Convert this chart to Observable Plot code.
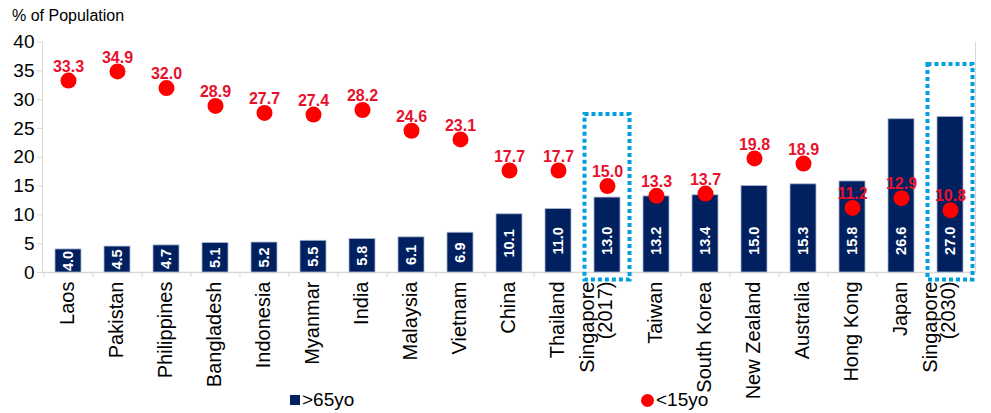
<!DOCTYPE html>
<html>
<head>
<meta charset="utf-8">
<script src="https://cdn.jsdelivr.net/npm/d3@7"></script>
<script src="https://cdn.jsdelivr.net/npm/@observablehq/plot@0.6"></script>
<style>
  html, body { margin: 0; padding: 0; background: #fff; }
  body { width: 991px; height: 413px; overflow: hidden; font-family: "Liberation Sans", Arial, sans-serif; color: #000; }
  #title { height: 28px; position: relative; }
  #title span { position: absolute; left: 12px; top: 7px; font-size: 16px; }
  #legend { height: 25px; position: relative; font-size: 19px; }
  .item { position: absolute; top: 1px; display: flex; align-items: center; }
  .sw { display: inline-block; margin-right: 2px; }
</style>
</head>
<body>
<div id="title"><span>% of Population</span></div>
<div id="chart"></div>
<div id="legend">
  <div class="item" style="left:290px"><span class="sw" style="width:10px;height:10px;background:#002060"></span><span>&gt;65yo</span></div>
  <div class="item" style="left:641px"><span class="sw" style="width:13px;height:13px;border-radius:50%;background:#ff0000"></span><span>&lt;15yo</span></div>
</div>
<script>
const categories = ["Laos","Pakistan","Philippines","Bangladesh","Indonesia","Myanmar","India","Malaysia","Vietnam","China","Thailand","Singapore\n(2017)","Taiwan","South Korea","New Zealand","Australia","Hong Kong","Japan","Singapore\n(2030)"];
const over65 = [4.0,4.5,4.7,5.1,5.2,5.5,5.8,6.1,6.9,10.1,11.0,13.0,13.2,13.4,15.0,15.3,15.8,26.6,27.0];
const under15 = [33.3,34.9,32.0,28.9,27.7,27.4,28.2,24.6,23.1,17.7,17.7,15.0,13.3,13.7,19.8,18.9,11.2,12.9,10.8];
const highlighted = ["Singapore\n(2017)","Singapore\n(2030)"];
const highlightTop = [27.4, 36.1];
const highlightBottom = -1.3;
const yTicks = [0,5,10,15,20,25,30,35,40];

const data = categories.map((c, i) => ({country: c, old: over65[i], young: under15[i]}));
const boxes = highlighted.map((c, i) => ({country: c, top: highlightTop[i], bottom: highlightBottom}));

const W = 991, ML = 42, MR = 16;
const step = (W - ML - MR) / categories.length;
const labelOpts = {x: d => d, frameAnchor: "bottom", dy: 9, rotate: -90, textAnchor: "end", lineAnchor: "middle", lineHeight: 0.88, fontSize: 20, fill: "#000"};

const chart = Plot.plot({
  width: W,
  height: 360,
  marginTop: 13.5,
  marginBottom: 116,
  marginLeft: ML,
  marginRight: MR,
  style: {fontFamily: "'Liberation Sans', Arial, sans-serif", fontSize: "16px", color: "#000", background: "white", overflow: "visible"},
  x: {domain: categories, paddingInner: 0.47, paddingOuter: 0.235, align: 0.5, label: null},
  y: {domain: [0, 40], ticks: yTicks, label: null},
  marks: [
    Plot.frame({anchor: "right", stroke: "#d9d9d9"}),
    Plot.frame({anchor: "left", stroke: "#d9d9d9"}),
    Plot.axisY({ticks: yTicks, tickSize: 5, tickPadding: 3, stroke: "#d9d9d9", fontSize: 19, label: null}),
    Plot.axisX({tickSize: 5, tickFormat: () => "", dx: -step / 2, stroke: "#d9d9d9", label: null}),
    Plot.text(categories, {...labelOpts, filter: d => !d.includes("\n")}),
    Plot.text(categories, {...labelOpts, filter: d => d.includes("\n"), dx: -10}),
    Plot.ruleY([0], {stroke: "#d9d9d9", strokeWidth: 1.5}),
    Plot.barY(data, {x: "country", y: "old", fill: "#002060", stroke: "#a9b6cf", strokeWidth: 0.8}),
    Plot.text(data, {x: "country", y: d => Math.min(d.old / 2, 5.5), text: d => d.old.toFixed(1), rotate: -90, fill: "white", fontWeight: "bold", fontSize: 14.5}),
    Plot.dot(data, {x: "country", y: "young", r: 8, fill: "#ff0000"}),
    Plot.text(data, {x: "country", y: "young", text: d => d.young.toFixed(1), dy: -14, fill: "#e8112d", fontWeight: "bold", fontSize: 16}),
    Plot.barY(boxes, {x: "country", y1: "bottom", y2: "top", fill: "none", stroke: "#00a0e0", strokeWidth: 4, strokeDasharray: "4 3", insetLeft: -9.5, insetRight: -9.5})
  ]
});
document.getElementById("chart").appendChild(chart);
</script>
</body>
</html>
